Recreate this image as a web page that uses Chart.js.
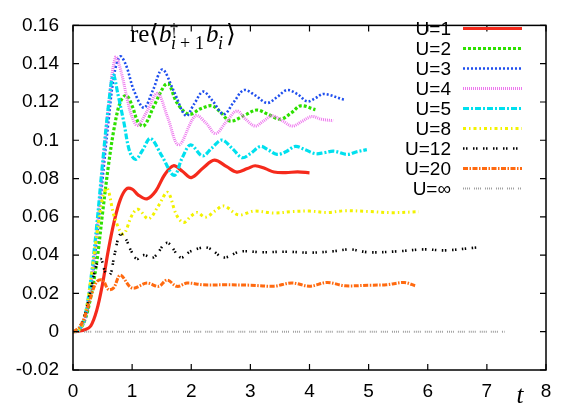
<!DOCTYPE html>
<html><head><meta charset="utf-8">
<script src="https://cdn.jsdelivr.net/npm/chart.js@4.4.0/dist/chart.umd.min.js"></script>
<style>html,body{margin:0;padding:0;background:#fff}#wrap{width:566px;height:408px}</style>
</head><body><div id="wrap"><canvas id="c" width="566" height="408"></canvas></div>
<script>
// ---- data ----
const seriesNames = ['U=1','U=2','U=3','U=4','U=5','U=8','U=12','U=20','U=\u221E'];

const tU1 = [0,0.1,0.2,0.3,0.4,0.5,0.6,0.7,0.8,0.9,1.0,1.1,1.25,1.4,1.55,1.7,1.85,2.0,2.2,2.39,2.6,2.77,2.95,3.08,3.25,3.4,3.6,3.8,4.0];
const vU1 = [0,0.0003,0.001,0.003,0.011,0.025,0.043,0.058,0.069,0.0745,0.0745,0.0715,0.0694,0.0735,0.082,0.0867,0.0838,0.0805,0.0855,0.0896,0.0862,0.0834,0.0852,0.0867,0.0852,0.0834,0.0831,0.0835,0.083];

const tU2 = [0,0.1,0.2,0.3,0.4,0.5,0.6,0.7,0.8,0.9,1.0,1.1,1.2,1.37,1.55,1.62,1.76,1.96,2.16,2.35,2.5,2.66,2.9,3.11,3.3,3.51,3.7,3.85,4.1];
const vU2 = [0,0.001,0.006,0.018,0.036,0.062,0.087,0.107,0.12,0.1235,0.118,0.1095,0.1075,0.118,0.1287,0.1295,0.1195,0.1136,0.1165,0.118,0.1145,0.110,0.113,0.1158,0.1135,0.111,0.1145,0.118,0.116];

const tU3 = [0,0.1,0.2,0.3,0.4,0.5,0.6,0.7,0.8,0.9,1.03,1.2,1.35,1.51,1.7,1.91,2.05,2.2,2.35,2.55,2.72,2.89,3.08,3.28,3.45,3.62,3.8,3.96,4.1,4.24,4.58];
const vU3 = [0,0.001,0.006,0.022,0.048,0.08,0.11,0.135,0.1438,0.139,0.126,0.117,0.126,0.137,0.126,0.1128,0.119,0.1254,0.121,0.1136,0.12,0.1262,0.1235,0.1195,0.1225,0.1262,0.124,0.1203,0.122,0.1242,0.1212];

const tU4 = [0,0.1,0.2,0.3,0.4,0.5,0.6,0.72,0.82,0.92,1.0,1.09,1.25,1.43,1.6,1.79,2.07,2.25,2.41,2.6,2.77,2.92,3.08,3.22,3.37,3.55,3.71,3.88,4.04,4.2,4.4];
const vU4 = [0,0.001,0.007,0.025,0.052,0.085,0.118,0.1435,0.135,0.121,0.112,0.1077,0.115,0.1245,0.112,0.0976,0.1128,0.109,0.1035,0.110,0.1153,0.111,0.1074,0.11,0.1128,0.110,0.1074,0.11,0.1124,0.111,0.1102];

const tU5 = [0,0.1,0.2,0.3,0.4,0.5,0.6,0.68,0.76,0.86,0.96,1.06,1.18,1.31,1.5,1.71,1.85,1.99,2.19,2.35,2.52,2.7,2.86,3.0,3.17,3.3,3.45,3.6,3.76,3.93,4.1,4.25,4.41,4.64,4.8,4.97];
const vU5 = [0,0.001,0.008,0.027,0.055,0.088,0.118,0.134,0.124,0.1094,0.094,0.090,0.095,0.101,0.092,0.0817,0.091,0.0976,0.0918,0.096,0.1001,0.0955,0.0909,0.093,0.0968,0.095,0.0926,0.094,0.0968,0.095,0.093,0.0935,0.0943,0.0926,0.094,0.0951];

const tU8 = [0,0.1,0.2,0.3,0.4,0.5,0.58,0.7,0.85,1.0,1.1,1.28,1.45,1.6,1.75,1.87,2.0,2.1,2.24,2.4,2.55,2.8,3.06,3.4,3.7,4.0,4.3,4.6,5.0,5.4,5.85];
const vU8 = [0,0.001,0.008,0.027,0.05,0.07,0.075,0.06,0.051,0.061,0.064,0.059,0.066,0.0728,0.061,0.057,0.0605,0.0623,0.0598,0.063,0.0657,0.061,0.063,0.062,0.0627,0.063,0.0623,0.0632,0.0628,0.0622,0.0627];

const tU12 = [0,0.1,0.2,0.3,0.4,0.47,0.55,0.63,0.7,0.8,0.9,0.97,1.08,1.19,1.36,1.59,1.82,1.99,2.27,2.55,2.83,3.2,3.6,4.0,4.4,4.69,5.0,5.5,5.93,6.3,6.83];
const vU12 = [0,0.002,0.009,0.022,0.035,0.038,0.031,0.030,0.040,0.051,0.048,0.043,0.038,0.040,0.0388,0.0464,0.0388,0.042,0.0439,0.0388,0.0419,0.0415,0.0418,0.0413,0.042,0.043,0.0415,0.042,0.043,0.0425,0.044];

const tU20 = [0,0.1,0.2,0.3,0.4,0.5,0.6,0.69,0.8,1.0,1.25,1.45,1.59,1.76,1.93,2.2,2.6,3.0,3.4,3.7,4.0,4.3,4.6,5.0,5.3,5.6,5.79];
const vU20 = [0,0.002,0.008,0.018,0.026,0.027,0.022,0.023,0.0295,0.0228,0.0254,0.0237,0.027,0.0237,0.0254,0.0245,0.0245,0.0243,0.0238,0.0255,0.0238,0.0257,0.024,0.0243,0.0245,0.0257,0.024];

const tUinf = [0,7.3];
const vUinf = [0,0];

const xTickValues = [0,1,2,3,4,5,6,7,8];
const xTickLabels = ['0','1','2','3','4','5','6','7','8'];
const yTickValues = [-0.02,0,0.02,0.04,0.06,0.08,0.1,0.12,0.14,0.16];
const yTickLabels = ['-0.02','0','0.02','0.04','0.06','0.08','0.1','0.12','0.14','0.16'];

// ---- styles ----
const styles = [
  {c:'#f52a1c', w:3.2, d:[]},
  {c:'#2ee000', w:3.2, d:[3,2]},
  {c:'#1f4fee', w:2.6, d:[2,2]},
  {c:'#ee78ee', w:3, d:[1,1]},
  {c:'#00e0ee', w:3.2, d:[6,2,2,2]},
  {c:'#f2f200', w:3, d:[3,3,1.5,3]},
  {c:'#000000', w:2.6, d:[1.5,1.5,1.5,5.5]},
  {c:'#ff6a10', w:3, d:[5,1.5,1.5,1.5]},
  {c:'#a0a0a0', w:2, d:[1,1,1,1,1,1,1,4]}
];
const tArr = [tU1,tU2,tU3,tU4,tU5,tU8,tU12,tU20,tUinf];
const vArr = [vU1,vU2,vU3,vU4,vU5,vU8,vU12,vU20,vUinf];

const datasets = seriesNames.map((n,i)=>({
  label:n,
  data: tArr[i].map((t,k)=>({x:t,y:vArr[i][k]})),
  borderColor: styles[i].c,
  borderWidth: styles[i].w,
  borderDash: styles[i].d,
  pointRadius:0,
  fill:false,
  tension:0.35,
  order: seriesNames.length - i
}));

const FONT = 'Liberation Sans';

const framePlugin = {
  id:'frame',
  afterDatasetsDraw(chart){
    const {ctx, chartArea:a, scales:{x,y}} = chart;
    ctx.save();
    ctx.strokeStyle='#000'; ctx.lineWidth=1.5; ctx.setLineDash([]);
    ctx.strokeRect(a.left, a.top, a.right-a.left, a.bottom-a.top);
    ctx.lineWidth=1.2;
    const L=6;
    xTickValues.forEach(v=>{
      const px = x.getPixelForValue(v);
      ctx.beginPath();
      ctx.moveTo(px,a.bottom); ctx.lineTo(px,a.bottom-L);
      ctx.moveTo(px,a.top); ctx.lineTo(px,a.top+L);
      ctx.stroke();
    });
    yTickValues.forEach(v=>{
      const py = y.getPixelForValue(v);
      ctx.beginPath();
      ctx.moveTo(a.left,py); ctx.lineTo(a.left+L,py);
      ctx.moveTo(a.right,py); ctx.lineTo(a.right-L,py);
      ctx.stroke();
    });
    ctx.restore();
  },
  afterDraw(chart){
    const {ctx} = chart;
    ctx.save();
    // legend
    ctx.font = '19px "'+FONT+'"';
    ctx.textAlign='right'; ctx.textBaseline='middle'; ctx.fillStyle='#000';
    chart.data.datasets.forEach((ds,i)=>{
      const yy = 28.5 + i*20;
      ctx.fillText(ds.label, 451, yy+1);
      ctx.beginPath();
      ctx.strokeStyle = ds.borderColor; ctx.lineWidth = ds.borderWidth;
      ctx.setLineDash(ds.borderDash);
      ctx.moveTo(463, yy); ctx.lineTo(522, yy);
      ctx.stroke();
    });
    ctx.setLineDash([]);
    // title  re<b^dagger_{i+1} b_i>
    ctx.textAlign='left'; ctx.textBaseline='alphabetic';
    const base = 42, sub = 49;
    const put = (txt, font, x, y) => { ctx.font = font; ctx.fillText(txt, x, y); };
    const R = '25px "Liberation Serif"', I = 'italic 25px "Liberation Serif"';
    const Rs = '18px "Liberation Serif"', Is = 'italic 18px "Liberation Serif"';
    const B = '25px "DejaVu Serif"';
    put('re', R, 130, base);
    put('\u27E8', B, 149, base);
    put('b', I, 159, base);
    put('\u2020', '16px "Liberation Serif"', 170, 35);
    put('i', Is, 171, sub);
    put('+', Rs, 180, sub);
    put('1', Rs, 195, sub);
    put('b', I, 206, base);
    put('i', Is, 218, sub);
    put('\u27E9', B, 226, base);
    // axis label t
    ctx.font = 'italic 25px "Liberation Serif"';
    ctx.textAlign='center';
    ctx.fillText('t', 520, 403);
    ctx.restore();
  }
};

new Chart(document.getElementById('c'), {
  type:'line',
  data:{datasets},
  options:{
    responsive:false, animation:false, devicePixelRatio:1,
    layout:{padding:{left:0,right:20,top:13,bottom:0}},
    plugins:{legend:{display:false}, tooltip:{enabled:false}, title:{display:false}},
    scales:{
      x:{type:'linear', min:0, max:8,
        afterFit(s){ s.height = 38; },
        afterBuildTicks(s){ s.ticks = xTickValues.map(v=>({value:v})); },
        grid:{display:false, drawTicks:false}, border:{display:false},
        ticks:{padding:10, color:'#000', font:{family:FONT,size:19}, maxRotation:0, autoSkip:false,
          callback:(v,i)=>xTickLabels[i]}
      },
      y:{type:'linear', min:-0.02, max:0.16,
        afterFit(s){ s.width = 73; },
        afterBuildTicks(s){ s.ticks = yTickValues.map(v=>({value:v})); },
        grid:{display:false, drawTicks:false}, border:{display:false},
        ticks:{padding:14, color:'#000', font:{family:FONT,size:19}, autoSkip:false,
          callback:(v,i)=>yTickLabels[i]}
      }
    }
  },
  plugins:[framePlugin]
});
</script></body></html>
